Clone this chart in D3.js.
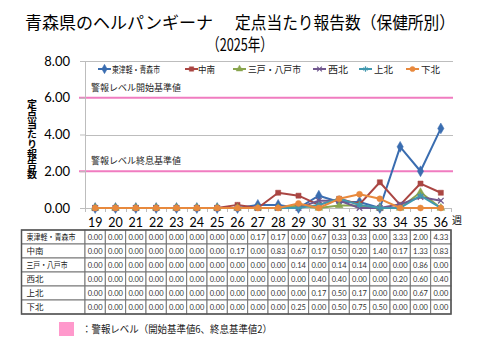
<!DOCTYPE html>
<html><head><meta charset="utf-8">
<script src="https://cdn.jsdelivr.net/npm/d3@7"></script>
<style>
html,body{margin:0;padding:0;background:#fff;}
svg{display:block;}
</style></head>
<body>
<script>
const weeks = [19,20,21,22,23,24,25,26,27,28,29,30,31,32,33,34,35,36];
const seriesNames = ["東津軽・青森市","中南","三戸・八戸市","西北","上北","下北"];
const higashiTsugaru = [0,0,0,0,0,0,0,0,0.17,0.17,0,0.67,0.33,0.33,0,3.33,2.00,4.33];
const chunan        = [0,0,0,0,0,0,0,0.17,0,0.83,0.67,0.17,0.50,0.20,1.40,0.17,1.33,0.83];
const sannohe       = [0,0,0,0,0,0,0,0,0,0,0.14,0,0.14,0.14,0,0,0.86,0];
const seihoku       = [0,0,0,0,0,0,0,0,0,0,0,0.40,0.40,0,0,0.20,0.60,0.40];
const kamikita      = [0,0,0,0,0,0,0,0,0,0,0,0.17,0.50,0.17,0,0,0.67,0];
const shimokita     = [0,0,0,0,0,0,0,0,0,0,0.25,0,0.50,0.75,0.50,0,0,0];
const seriesValues = [higashiTsugaru, chunan, sannohe, seihoku, kamikita, shimokita];
const yTicks = [0,2,4,6,8];
const alertLines = [{v:6,label:"警報レベル開始基準値"},{v:2,label:"警報レベル終息基準値"}];

const colors = ["#3A6DB0","#AA4643","#89A54E","#71588F","#4198AF","#E8893D"];
const symbols = [d3.symbolDiamond,d3.symbolSquare,d3.symbolTriangle,d3.symbolTimes,d3.symbolAsterisk,d3.symbolCircle];
const symFill = [true,true,true,false,false,true];
const symSize = [34,26,26,22,26,28];

const W=480,H=360;
const svg=d3.select("body").append("svg").attr("width",W).attr("height",H);
const jp="'Noto Sans CJK JP','Noto Sans',sans-serif";
const num="Lato,'Open Sans',sans-serif";

// Title
svg.append("text").attr("x",25).attr("y",29)
  .attr("font-family",jp).attr("font-size",17).attr("fill","#000")
  .attr("textLength",188).attr("lengthAdjust","spacingAndGlyphs")
  .text("青森県のヘルパンギーナ");
svg.append("text").attr("x",235).attr("y",29)
  .attr("font-family",jp).attr("font-size",17).attr("fill","#000")
  .attr("textLength",220).attr("lengthAdjust","spacingAndGlyphs")
  .text("定点当たり報告数（保健所別）");
svg.append("text").attr("x",207).attr("y",51)
  .attr("font-family",jp).attr("font-size",17).attr("fill","#000")
  .attr("textLength",66).attr("lengthAdjust","spacingAndGlyphs")
  .text("（2025年）");

const x=d3.scaleBand().domain(weeks).range([85,451]);
const y=d3.scaleLinear().domain([0,8]).range([208,61]);
const cx=w=>x(w)+x.bandwidth()/2;

// gridlines
const g=svg.append("g");
g.selectAll("line.grid").data(yTicks.filter(t=>t>0 && !alertLines.some(a=>a.v===t))).join("line")
  .attr("x1",85).attr("x2",453).attr("y1",d=>Math.round(y(d))+0.5).attr("y2",d=>Math.round(y(d))+0.5)
  .attr("stroke","#BDBDBD").attr("stroke-width",1);
// alert lines
g.selectAll("line.alert").data(alertLines).join("line")
  .attr("x1",79).attr("x2",453).attr("y1",d=>y(d.v)).attr("y2",d=>y(d.v))
  .attr("stroke","#F07CC0").attr("stroke-width",2);
g.selectAll("text.alert").data(alertLines).join("text")
  .attr("x",91).attr("y",d=>y(d.v)-7).attr("font-family",jp).attr("font-size",9).attr("fill","#222")
  .text(d=>d.label);

// y axis
const yAxis=svg.append("g").attr("transform","translate(85,0)")
  .call(d3.axisLeft(y).tickValues(yTicks).tickFormat(d3.format(".2f")).tickSize(5).tickPadding(10));
yAxis.select(".domain").attr("stroke","#BDBDBD").attr("d","M0.5,61V208");
yAxis.selectAll(".tick line").attr("stroke","#BDBDBD");
yAxis.selectAll(".tick text").attr("font-family",num).attr("font-size",13).attr("fill","#000");

// y title vertical
svg.append("text").attr("x",32).attr("y",99)
  .attr("font-family",jp).attr("font-size",10).attr("font-weight",700).attr("fill","#000")
  .style("writing-mode","vertical-rl").style("text-orientation","upright")
  .text("定点当たり報告数");

// x axis line with ticks
const xAxis=svg.append("g").attr("transform","translate(0,208)")
  .call(d3.axisBottom(x).tickSize(0).tickFormat(""));
xAxis.select(".domain").attr("stroke","#BDBDBD").attr("d","M85,0.5H452");
svg.append("g").selectAll("line").data(weeks.concat(["end"])).join("line")
  .attr("x1",(d,i)=>i<weeks.length? Math.round(x(d))+0.5 : Math.round(x.range()[1])+0.5)
  .attr("x2",(d,i)=>i<weeks.length? Math.round(x(d))+0.5 : Math.round(x.range()[1])+0.5)
  .attr("y1",208).attr("y2",212).attr("stroke","#BDBDBD");

// series
seriesValues.forEach((vals,si)=>{
  const line=d3.line().x((d,i)=>cx(weeks[i])).y(d=>y(d));
  svg.append("path").datum(vals).attr("d",line).attr("fill","none")
    .attr("stroke",colors[si]).attr("stroke-width",2).attr("stroke-linejoin","round");
  svg.append("g").selectAll("path").data(vals).join("path")
    .attr("transform",(d,i)=>`translate(${cx(weeks[i])},${y(d)})`)
    .attr("d",d3.symbol(symbols[si],symSize[si]))
    .attr("fill",symFill[si]?colors[si]:"none")
    .attr("stroke",colors[si]).attr("stroke-width",symFill[si]?0.5:1.3);
});

// legend
const legendLineX=[98,185,233,313,359,406];
const legendTextX=[112,198,248,328,374,421];
const legendW=[48,17,53,20,19,19];
const lg=svg.append("g");
seriesNames.forEach((n,i)=>{
  const ly=69;
  lg.append("line").attr("x1",legendLineX[i]).attr("x2",legendLineX[i]+13).attr("y1",ly).attr("y2",ly)
    .attr("stroke",colors[i]).attr("stroke-width",2);
  lg.append("path").attr("transform",`translate(${legendLineX[i]+6.5},${ly})`)
    .attr("d",d3.symbol(symbols[i],symSize[i]*0.75))
    .attr("fill",symFill[i]?colors[i]:"none").attr("stroke",colors[i]).attr("stroke-width",symFill[i]?0.5:1.2);
  lg.append("text").attr("x",legendTextX[i]).attr("y",ly+4)
    .attr("font-family",jp).attr("font-size",9.5).attr("fill","#222")
    .attr("textLength",legendW[i]).attr("lengthAdjust","spacingAndGlyphs").text(n);
});

// header numbers
svg.append("g").selectAll("text").data(weeks).join("text")
  .attr("x",d=>cx(d)).attr("y",227).attr("text-anchor","middle")
  .attr("font-family",num).attr("font-size",12.5).attr("fill","#000").text(d=>d);
svg.append("text").attr("x",452).attr("y",224).attr("font-family",jp).attr("font-size",10).attr("fill","#000").text("週");

// table
const tableTop=230, rowH=14, labelLeft=21.5, labelRight=x.range()[0];
const labelW=[49,0,41,0,0,0];
const tbl=svg.append("g");
seriesNames.forEach((n,ri)=>{
  const ry=tableTop+ri*rowH;
  tbl.append("rect").attr("x",labelLeft).attr("y",ry).attr("width",labelRight-labelLeft).attr("height",rowH)
    .attr("fill","#fff").attr("stroke","#777").attr("stroke-width",1);
  const t=tbl.append("text").attr("x",labelLeft+5).attr("y",ry+rowH/2+3.3)
    .attr("font-family",jp).attr("font-size",8.5).attr("fill","#222").text(n);
  if(labelW[ri]) t.attr("textLength",labelW[ri]).attr("lengthAdjust","spacingAndGlyphs");
  seriesValues[ri].forEach((v,ci)=>{
    tbl.append("rect").attr("x",x(weeks[ci])).attr("y",ry).attr("width",x.bandwidth()).attr("height",rowH)
      .attr("fill","#fff").attr("stroke","#777").attr("stroke-width",1);
    tbl.append("text").attr("x",cx(weeks[ci])).attr("y",ry+rowH/2+2.8).attr("text-anchor","middle")
      .attr("font-family",num).attr("font-size",7.5).attr("fill","#333").text(d3.format(".2f")(v));
  });
});
tbl.append("rect").attr("x",labelLeft).attr("y",tableTop).attr("width",x.range()[1]-labelLeft).attr("height",rowH*6)
  .attr("fill","none").attr("stroke","#555").attr("stroke-width",1.5);

// bottom legend
svg.append("rect").attr("x",59).attr("y",322).attr("width",15).attr("height",14).attr("fill","#FF99CC");
svg.append("text").attr("x",82).attr("y",333).attr("font-family",jp).attr("font-size",10).attr("fill","#222")
  .attr("textLength",190).attr("lengthAdjust","spacingAndGlyphs")
  .text("：警報レベル（開始基準値6、終息基準値2）");
</script>
</body></html>
